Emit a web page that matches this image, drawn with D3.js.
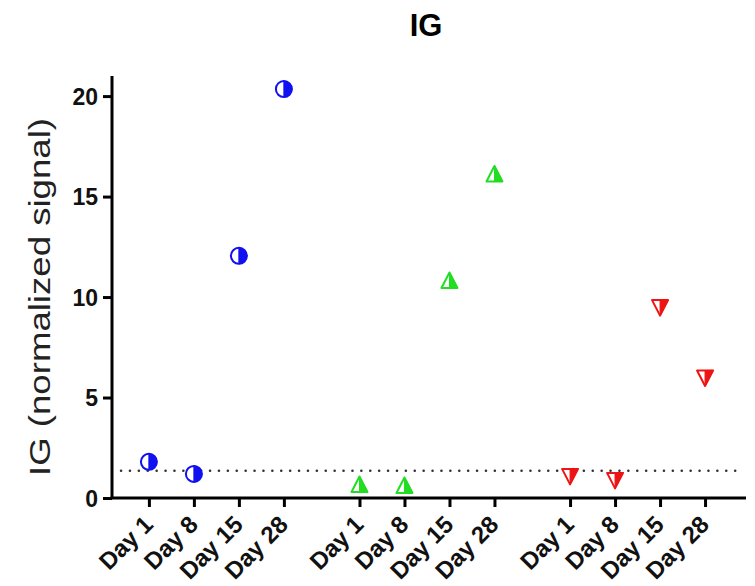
<!DOCTYPE html>
<html>
<head>
<meta charset="utf-8">
<script src="https://cdn.jsdelivr.net/npm/d3@7"></script>
<style>
  body { margin: 0; background: #fff; }
  text { font-family: 'Liberation Sans', Arial, sans-serif; }
</style>
</head>
<body>
<div id="chart"></div>
<script>
// data
const days = ['Day 1', 'Day 8', 'Day 15', 'Day 28']
const groups = ['blue', 'green', 'red']
const blueValues = [1.8, 1.2, 12.05, 20.35]
const greenValues = [0.65, 0.6, 10.8, 16.1]
const redValues = [1.1, 0.9, 9.5, 6.0]
const yTicks = [0, 5, 10, 15, 20]
const threshold = 1.35

const width = 755
const height = 586
const margin = { top: 76, right: 9, bottom: 88, left: 112 }

const groupStep = 4.68

const series = [
  { name: 'blue', color: '#1010f0', shape: 'circle', values: blueValues },
  { name: 'green', color: '#22dd22', shape: 'up', values: greenValues },
  { name: 'red', color: '#ee1414', shape: 'down', values: redValues }
]

const points = []
series.forEach(function (s, g) {
  s.values.forEach(function (v, i) {
    points.push({ g: g, i: i, value: v, color: s.color, shape: s.shape })
  })
})

const ticks = []
groups.forEach(function (gname, g) {
  days.forEach(function (d, i) { ticks.push({ pos: g * groupStep + i, label: d }) })
})

const svg = d3.select('#chart').append('svg')
  .attr('width', width)
  .attr('height', height)

const x = d3.scaleLinear()
  .domain([-0.82, 13.27])
  .range([margin.left, width - margin.right])

const y = d3.scaleLinear()
  .domain([0, 21])
  .range([height - margin.bottom, margin.top])

// title
svg.append('text')
  .attr('x', 426)
  .attr('y', 36)
  .attr('text-anchor', 'middle')
  .attr('font-size', 31)
  .attr('font-weight', 'bold')
  .text('IG')

// y axis
const yAxis = svg.append('g')
  .attr('transform', 'translate(' + margin.left + ',0)')
  .call(d3.axisLeft(y).tickValues(yTicks).tickSize(9).tickPadding(5))
yAxis.select('.domain').attr('stroke-width', 3).attr('d', 'M0,' + y(21) + 'V' + y(0))
yAxis.selectAll('.tick line').attr('stroke-width', 3)
yAxis.selectAll('.tick text')
  .attr('font-size', 23)
  .attr('font-weight', 'bold')
  .attr('fill', '#111')
  .attr('dy', '0.36em')

// x axis
const xAxis = svg.append('g')
  .attr('transform', 'translate(0,' + y(0) + ')')
  .call(d3.axisBottom(x).tickValues(ticks.map(function (t) { return t.pos }))
    .tickFormat(function (d, k) { return ticks[k].label })
    .tickSize(9))
xAxis.select('.domain').attr('stroke-width', 3).attr('d', 'M' + (margin.left - 1.5) + ',0H' + (width - margin.right))
xAxis.selectAll('.tick line').attr('stroke-width', 3)
xAxis.selectAll('.tick text')
  .attr('font-size', 24)
  .attr('font-weight', 'bold')
  .attr('fill', '#111')
  .attr('text-anchor', 'end')
  .attr('x', 0)
  .attr('y', 0)
  .attr('dy', 0)
  .attr('transform', 'translate(5,28) rotate(-45)')

// y label
svg.append('text')
  .attr('transform', 'translate(50,' + ((y(0) + y(21)) / 2 + 10) + ') rotate(-90)')
  .attr('text-anchor', 'middle')
  .attr('font-size', 30)
  .attr('textLength', 358)
  .attr('lengthAdjust', 'spacingAndGlyphs')
  .attr('fill', '#222')
  .text('IG (normalized signal)')

// dotted threshold line
svg.append('line')
  .attr('x1', margin.left + 9)
  .attr('x2', width - margin.right - 5)
  .attr('y1', y(threshold))
  .attr('y2', y(threshold))
  .attr('stroke', '#333')
  .attr('stroke-width', 2.5)
  .attr('stroke-linecap', 'round')
  .attr('stroke-dasharray', '0.1 8.8')

// markers: outline shape + right half filled
function fullPath (shape) {
  if (shape === 'circle') return 'M0,-8A8,8 0 1,1 0,8A8,8 0 1,1 0,-8Z'
  if (shape === 'up') return 'M0,-8.5L8,7L-8,7Z'
  return 'M0,8.5L8,-7L-8,-7Z'
}
function halfPath (shape) {
  if (shape === 'circle') return 'M0,-8A8,8 0 0,1 0,8Z'
  if (shape === 'up') return 'M0,-8.5L8,7L0,7Z'
  return 'M0,8.5L8,-7L0,-7Z'
}

const marks = svg.append('g').selectAll('g')
  .data(points)
  .enter().append('g')
  .attr('transform', function (d) {
    return 'translate(' + x(d.g * groupStep + d.i) + ',' + y(d.value) + ')'
  })

marks.append('path')
  .attr('d', function (d) { return fullPath(d.shape) })
  .attr('fill', '#fff')
  .attr('stroke', function (d) { return d.color })
  .attr('stroke-width', 2)
  .attr('stroke-linejoin', 'round')

marks.append('path')
  .attr('d', function (d) { return halfPath(d.shape) })
  .attr('fill', function (d) { return d.color })
  .attr('stroke', function (d) { return d.color })
  .attr('stroke-width', 1)
</script>
</body>
</html>
